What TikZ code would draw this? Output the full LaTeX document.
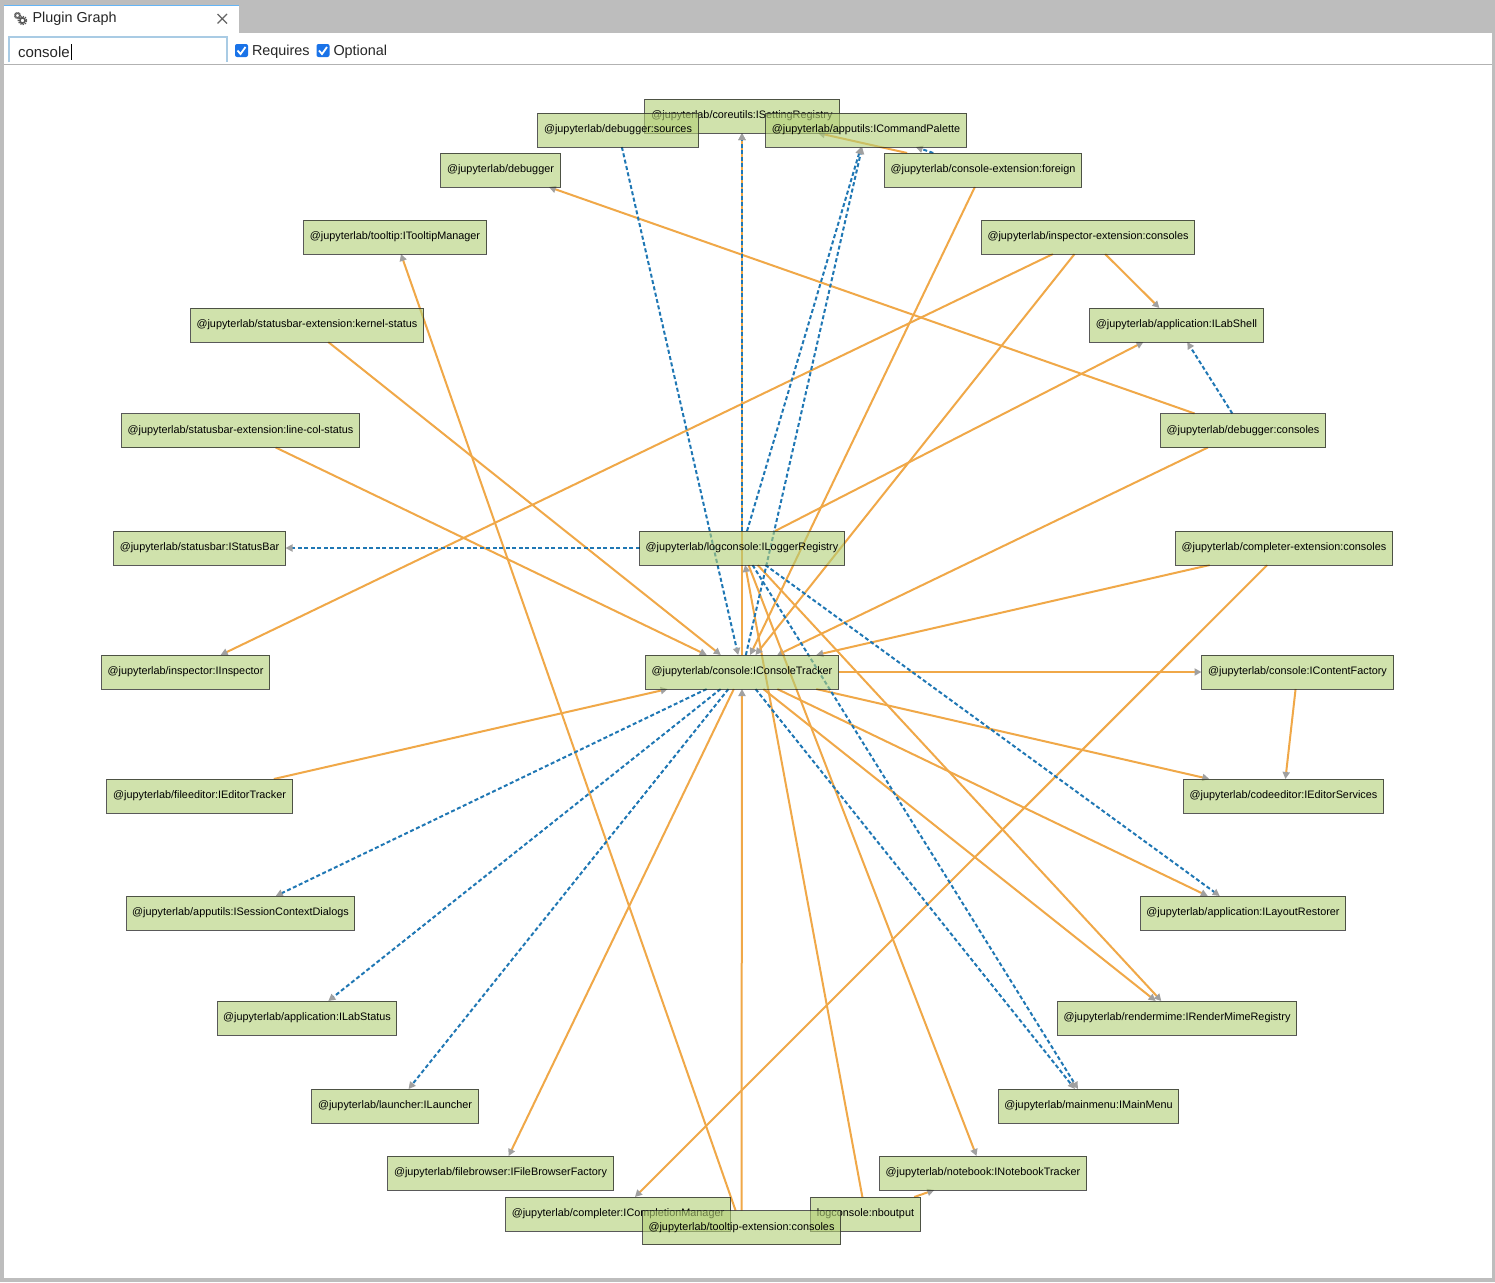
\documentclass[tikz,border=0pt]{standalone}
\usepackage{fontspec}
\setmainfont{Liberation Sans}
\usetikzlibrary{arrows.meta,backgrounds}
\definecolor{nodefill}{HTML}{B2CF76}
\definecolor{nodeline}{HTML}{222222}
\definecolor{reqcol}{HTML}{F0A848}
\definecolor{optcol}{HTML}{1F77B4}
\definecolor{tipcol}{HTML}{A0A0A0}
\definecolor{chrome}{HTML}{BDBDBD}
\definecolor{tabblue}{HTML}{64B5F6}
\definecolor{inputblue}{HTML}{A9CBE4}
\definecolor{checkblue}{HTML}{1A73E8}
\tikzset{
  pnode/.style={draw=nodeline,line width=1pt,draw opacity=.75,fill=nodefill,fill opacity=.6,text opacity=1,xshift=-.5pt,
    rectangle,inner sep=0pt,outer sep=0pt,minimum height=34pt,text=black,
    font=\fontsize{10.85}{13}\selectfont},
  reqedge/.style={draw=reqcol,line width=2pt,-{Triangle[length=7pt,width=7pt,color=tipcol,fill=tipcol]}},
  optedge/.style={draw=optcol,line width=2pt,dash pattern=on 4pt off 2.5pt,-{Triangle[length=7pt,width=7pt,color=tipcol,fill=tipcol]}},
  uitext/.style={inner sep=0pt,outer sep=0pt,anchor=base west,text=black!85,font=\fontsize{14.4}{16}\selectfont},
  checkbox/.style={fill=checkblue,rounded corners=2pt,minimum width=13pt,minimum height=13pt,inner sep=0pt},
}
\begin{document}
\begin{tikzpicture}[x=1pt,y=-1pt]
\useasboundingbox (0,0) rectangle (1495,1282);
% nodes
\node[pnode,minimum width=195pt] (setting) at (742.5,116) {@jupyterlab/coreutils:ISettingRegistry};
\node[pnode,minimum width=161pt] (sources) at (618.5,130) {@jupyterlab/debugger:sources};
\node[pnode,minimum width=201pt] (palette) at (866.5,130) {@jupyterlab/apputils:ICommandPalette};
\node[pnode,minimum width=120pt] (debugger) at (501,170) {@jupyterlab/debugger};
\node[pnode,minimum width=197pt] (foreign) at (983.5,170) {@jupyterlab/console-extension:foreign};
\node[pnode,minimum width=183pt] (tooltipmgr) at (395.5,237) {@jupyterlab/tooltip:ITooltipManager};
\node[pnode,minimum width=213pt] (inspectorext) at (1088.5,237) {@jupyterlab/inspector-extension:consoles};
\node[pnode,minimum width=233pt] (kernelstatus) at (307.5,325) {@jupyterlab/statusbar-extension:kernel-status};
\node[pnode,minimum width=174pt] (labshell) at (1177,325) {@jupyterlab/application:ILabShell};
\node[pnode,minimum width=238pt] (linecol) at (241,430.5) {@jupyterlab/statusbar-extension:line-col-status};
\node[pnode,minimum width=165pt] (dbgconsoles) at (1243.5,430.5) {@jupyterlab/debugger:consoles};
\node[pnode,minimum width=172pt] (statusbar) at (200,548) {@jupyterlab/statusbar:IStatusBar};
\node[pnode,minimum width=205pt] (logger) at (742.5,548) {@jupyterlab/logconsole:ILoggerRegistry};
\node[pnode,minimum width=217pt] (completerext) at (1284.5,548) {@jupyterlab/completer-extension:consoles};
\node[pnode,minimum width=168pt] (inspector) at (186,672) {@jupyterlab/inspector:IInspector};
\node[pnode,minimum width=193pt] (tracker) at (742.5,672) {@jupyterlab/console:IConsoleTracker};
\node[pnode,minimum width=192pt] (contentfactory) at (1298,672) {@jupyterlab/console:IContentFactory};
\node[pnode,minimum width=186pt] (editortracker) at (200,796) {@jupyterlab/fileeditor:IEditorTracker};
\node[pnode,minimum width=200pt] (editorservices) at (1284,796) {@jupyterlab/codeeditor:IEditorServices};
\node[pnode,minimum width=228pt] (sessiondialogs) at (241,913) {@jupyterlab/apputils:ISessionContextDialogs};
\node[pnode,minimum width=205pt] (restorer) at (1243.5,913) {@jupyterlab/application:ILayoutRestorer};
\node[pnode,minimum width=179pt] (labstatus) at (307.5,1018) {@jupyterlab/application:ILabStatus};
\node[pnode,minimum width=239pt] (rendermime) at (1177.5,1018) {@jupyterlab/rendermime:IRenderMimeRegistry};
\node[pnode,minimum width=167pt] (launcher) at (395.5,1106) {@jupyterlab/launcher:ILauncher};
\node[pnode,minimum width=180pt] (mainmenu) at (1089,1106) {@jupyterlab/mainmenu:IMainMenu};
\node[pnode,minimum width=226pt] (filebrowser) at (501,1173) {@jupyterlab/filebrowser:IFileBrowserFactory};
\node[pnode,minimum width=207pt] (notebook) at (983.5,1173) {@jupyterlab/notebook:INotebookTracker};
\node[pnode,minimum width=225pt] (completion) at (618.5,1214) {@jupyterlab/completer:ICompletionManager};
\node[pnode,minimum width=110pt] (nboutput) at (866,1214) {logconsole:nboutput};
\node[pnode,minimum width=198pt] (tooltipext) at (742,1227.5) {@jupyterlab/tooltip-extension:consoles};
% window chrome
\node[fill=white,minimum width=235pt,minimum height=27pt,inner sep=0pt,anchor=north west] (tab) at (4,6) {};
\node[uitext] (tabtitle) at (32.5,23) {Plugin Graph};
\node[uitext,font=\fontsize{15}{17}\selectfont] (query) at (18,57) {console};
\node[uitext] (reqlabel) at (252,55) {Requires};
\node[uitext] (optlabel) at (333.5,55) {Optional};
\node[checkbox] (reqbox) at (241.5,50.5) {};
\node[checkbox] (optbox) at (323,50.5) {};
\draw[white,line width=1.8pt] (237.5,50.5) -- (240.5,54) -- (245.5,47);
\draw[white,line width=1.8pt] (319,50.5) -- (322,54) -- (327,47);
\draw[black,line width=1pt] (71.5,44) -- (71.5,60);
\draw[inputblue,line width=2pt] (9,62) -- (9,37) -- (227,37) -- (227,62);
\draw[tabblue,line width=1pt] (4,5.5) -- (239,5.5);
\draw[black!60,line width=1.2pt] (217.5,14) -- (227,23.5) (227,14) -- (217.5,23.5);
% gear icon
\draw[black!65,line width=1pt] (17.5,15.5) circle (2pt);
\draw[black!65,line width=1.2pt,dash pattern=on 1pt off .6pt] (17.5,15.5) circle (3pt);
\draw[black!65,line width=1.5pt] (22.5,20.5) circle (2.6pt);
\draw[black!65,line width=1.6pt,dash pattern=on 1.3pt off 1pt] (22.5,20.5) circle (4pt);
\begin{pgfonlayer}{background}
\fill[white] (0,0) rectangle (1495,1282);
\fill[chrome] (0,0) rectangle (1495,33);
\fill[chrome] (0,0) rectangle (4,1282);
\fill[chrome] (1492,0) rectangle (1495,1282);
\fill[chrome] (0,1278) rectangle (1495,1282);
\draw[black!30,line width=1pt] (4,64.5) -- (1492,64.5);
% required
\draw[reqedge] (foreign) -- (setting);
\draw[reqedge] (foreign) -- (tracker);
\draw[reqedge] (dbgconsoles) -- (debugger);
\draw[reqedge] (dbgconsoles) -- (tracker);
\draw[reqedge] (tracker) -- (setting);
\draw[reqedge] (tooltipext) -- (tracker);
\draw[reqedge] (tooltipext) -- (tooltipmgr);
\draw[reqedge] (nboutput) -- (logger);
\draw[reqedge] (nboutput) -- (notebook);
\draw[reqedge] (logger) -- (labshell);
\draw[reqedge] (logger) -- (rendermime);
\draw[reqedge] (logger) -- (notebook);
\draw[reqedge] (tracker) -- (rendermime);
\draw[reqedge] (tracker) -- (contentfactory);
\draw[reqedge] (contentfactory) -- (editorservices);
\draw[reqedge] (tracker) -- (editorservices);
\draw[reqedge] (tracker) -- (restorer);
\draw[reqedge] (tracker) -- (filebrowser);
\draw[reqedge] (editortracker) -- (tracker);
\draw[reqedge] (linecol) -- (tracker);
\draw[reqedge] (kernelstatus) -- (tracker);
\draw[reqedge] (inspectorext) -- (labshell);
\draw[reqedge] (inspectorext) -- (tracker);
\draw[reqedge] (inspectorext) -- (inspector);
\draw[reqedge] (completerext) -- (tracker);
\draw[reqedge] (completerext) -- (completion);
% optional
\draw[optedge] (logger) -- (setting);
\draw[optedge] (foreign) -- (palette);
\draw[optedge] (dbgconsoles) -- (labshell);
\draw[optedge] (sources) -- (tracker);
\draw[optedge] (logger) -- (statusbar);
\draw[optedge] (logger) -- (palette);
\draw[optedge] (tracker) -- (palette);
\draw[optedge] (logger) -- (restorer);
\draw[optedge] (logger) -- (mainmenu);
\draw[optedge] (tracker) -- (mainmenu);
\draw[optedge] (tracker) -- (labstatus);
\draw[optedge] (tracker) -- (launcher);
\draw[optedge] (tracker) -- (sessiondialogs);
\end{pgfonlayer}
\end{tikzpicture}
\end{document}
